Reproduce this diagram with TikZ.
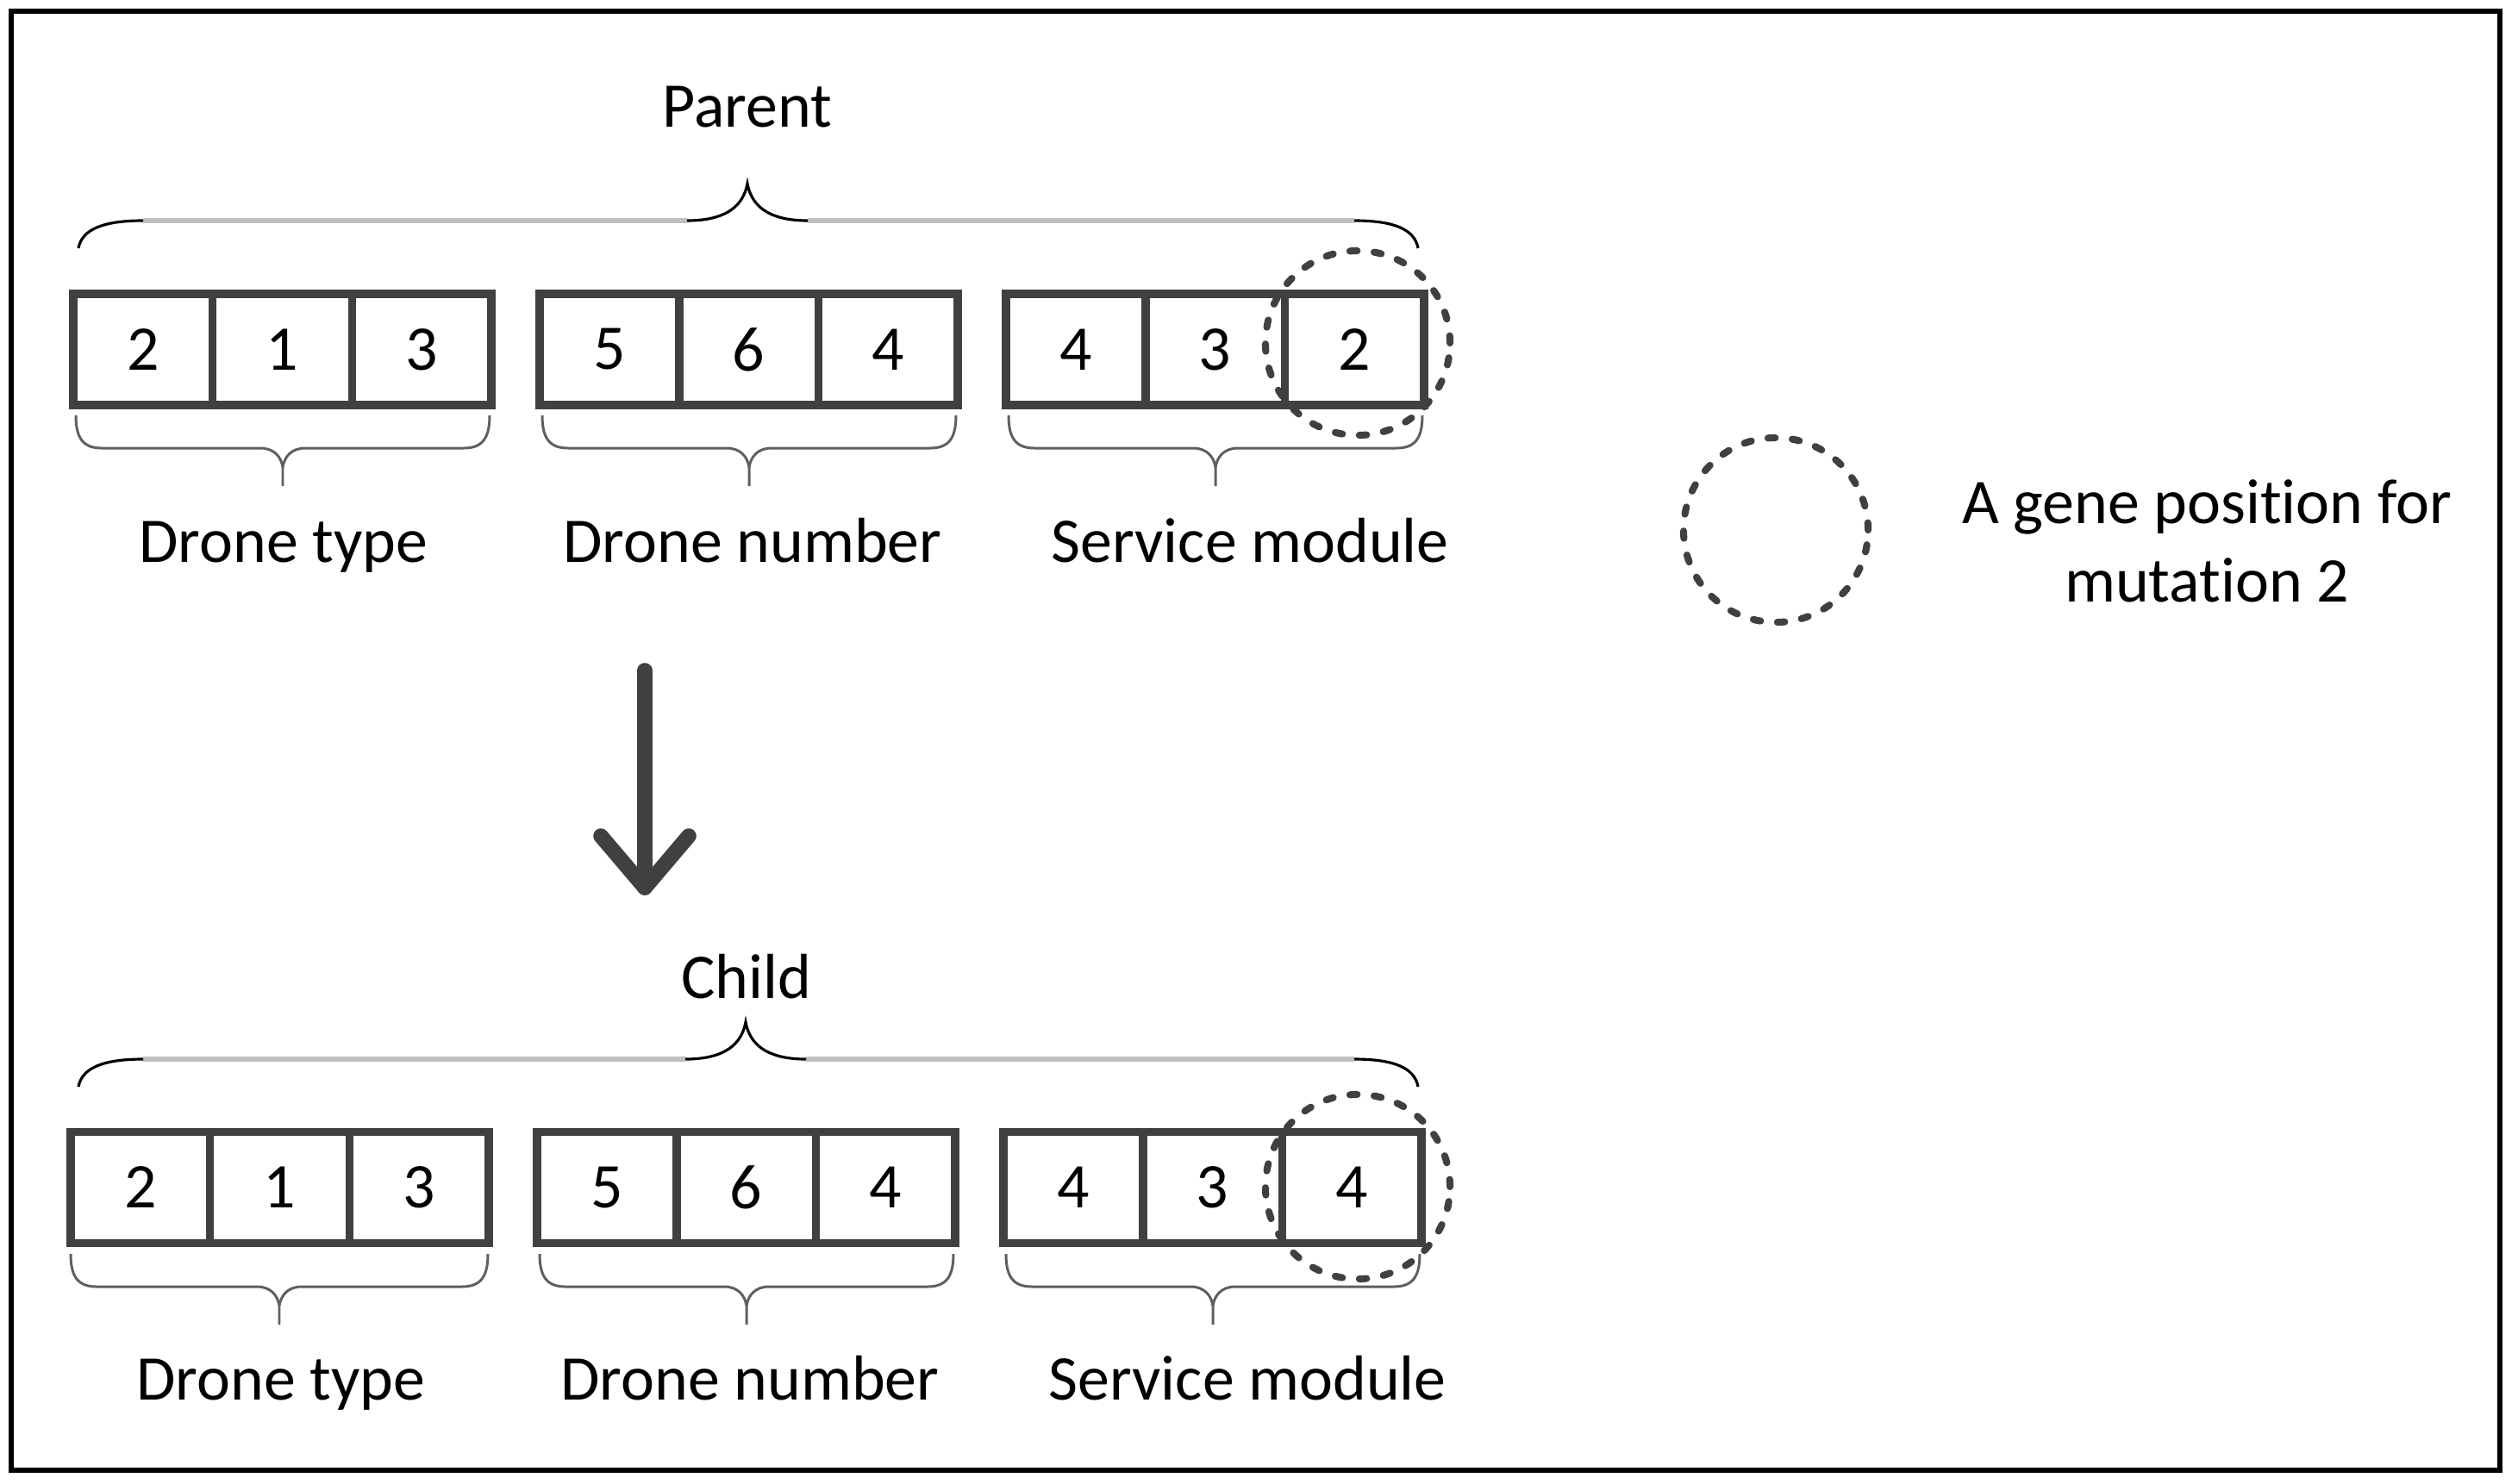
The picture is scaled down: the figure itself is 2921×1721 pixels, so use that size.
\documentclass[tikz,border=0pt]{standalone}
\usepackage{fontspec}
\setmainfont{Carlito}[Ligatures={NoCommon}]
\definecolor{dk}{RGB}{64,64,64}
\definecolor{lg}{RGB}{191,191,191}
\definecolor{bg}{RGB}{95,95,95}
\tikzset{
  cell/.style={draw=dk, line width=2.7pt, minimum width=1.617cm, minimum height=1.29cm,
    inner sep=0pt, font=\fontsize{21}{25}\selectfont},
  lbl/.style={font=\fontsize{21}{25}\selectfont, inner sep=0pt, anchor=base},
  legendtext/.style={font=\fontsize{21}{26}\selectfont, inner sep=0pt, align=center, anchor=base},
  genecirc/.style={draw=dk, line width=2.3pt, dash pattern=on 2.4pt off 5.6pt, line cap=round,
    circle, minimum size=2.14cm, inner sep=0pt},
  bracecurve/.style={draw=black, line width=0.9pt},
  bracestraight/.style={draw=lg, line width=1.9pt},
  subbrace/.style={draw=bg, line width=0.85pt},
  bigarrow/.style={draw=dk, line width=5pt, line cap=round, line join=round},
  frame/.style={draw=black, line width=1.6pt}
}
% sub brace: #1 left x, #2 right x, #3 top y
\newcommand\mysubbrace[3]{%
  \draw[subbrace] (#1,#3) .. controls (#1,{#3+26}) and ({#1+8},{#3+38}) .. ({#1+30},{#3+38})
    -- ({(#1+#2)/2-26},{#3+38}) .. controls ({(#1+#2)/2-10},{#3+38}) and ({(#1+#2)/2-2},{#3+48}) .. ({(#1+#2)/2},{#3+60})
    -- ({(#1+#2)/2},{#3+82});
  \draw[subbrace] (#2,#3) .. controls (#2,{#3+26}) and ({#2-8},{#3+38}) .. ({#2-30},{#3+38})
    -- ({(#1+#2)/2+26},{#3+38}) .. controls ({(#1+#2)/2+10},{#3+38}) and ({(#1+#2)/2+2},{#3+48}) .. ({(#1+#2)/2},{#3+60});
}
% top brace: #1 line y, #2 tip x
\newcommand\mytopbrace[2]{%
  \draw[bracestraight] (166,#1) -- ({#2-70},#1);
  \draw[bracestraight] ({#2+70},#1) -- (1571,#1);
  \draw[bracecurve] (91,{#1+32}) .. controls (95,{#1+10}) and (120,#1) .. (166,#1);
  \draw[bracecurve] (1571,#1) .. controls (1617,#1) and (1641,{#1+10}) .. (1645,{#1+32});
  \draw[bracecurve] ({#2-70},#1) .. controls ({#2-35},#1) and ({#2-6},{#1-10}) .. (#2,{#1-43})
    .. controls ({#2+6},{#1-10}) and ({#2+35},#1) .. ({#2+70},#1);
}
\begin{document}
\begin{tikzpicture}[x=0.01cm, y=-0.01cm]
\useasboundingbox (0,0) rectangle (2921,1721);
\draw[frame] (13,13) rectangle (2900,1706);

% Parent row
\node[lbl] (parent) at (867,147) {Parent};
\mytopbrace{256}{867}
\foreach \n/\x/\v in {p1/165.85/2, p2/327.55/1, p3/489.25/3,
                      p4/706.85/5, p5/868.55/6, p6/1030.25/4,
                      p7/1247.85/4, p8/1409.55/3, p9/1571.25/2}
  \node[cell] (\n) at (\x,405.5) {\v};
\mysubbrace{88}{568}{482}
\mysubbrace{629}{1109}{482}
\mysubbrace{1170}{1650}{482}
\node[lbl] (ptype) at (329,652) {Drone type};
\node[lbl] (pnum) at (873,652) {Drone number};
\node[lbl] (pserv) at (1450,652) {Service module};
\node[genecirc] (pcirc) at (1575,398) {};

% Arrow
\coordinate (arrS) at (748,778);
\coordinate (arrE) at (748,1030);
\draw[bigarrow] (arrS) -- (arrE);
\draw[bigarrow] (697,970) -- (arrE) -- (799,970);

% Child row
\node[lbl] (child) at (866,1158) {Child};
\mytopbrace{1229}{865}
\foreach \n/\x/\v in {c1/162.85/2, c2/324.55/1, c3/486.25/3,
                      c4/703.85/5, c5/865.55/6, c6/1027.25/4,
                      c7/1244.85/4, c8/1406.55/3, c9/1568.25/4}
  \node[cell] (\n) at (\x,1378) {\v};
\mysubbrace{82}{566}{1455}
\mysubbrace{626}{1106}{1455}
\mysubbrace{1167}{1647}{1455}
\node[lbl] (ctype) at (326,1624) {Drone type};
\node[lbl] (cnum) at (870,1624) {Drone number};
\node[lbl] (cserv) at (1447,1624) {Service module};
\node[genecirc] (ccirc) at (1575,1377) {};

% Legend
\node[genecirc] (lcirc) at (2060,615) {};
\node[legendtext] (ltext) at (2560,607) {A gene position for};
\node[legendtext] (ltext2) at (2560,698) {mutation 2};
\end{tikzpicture}
\end{document}
